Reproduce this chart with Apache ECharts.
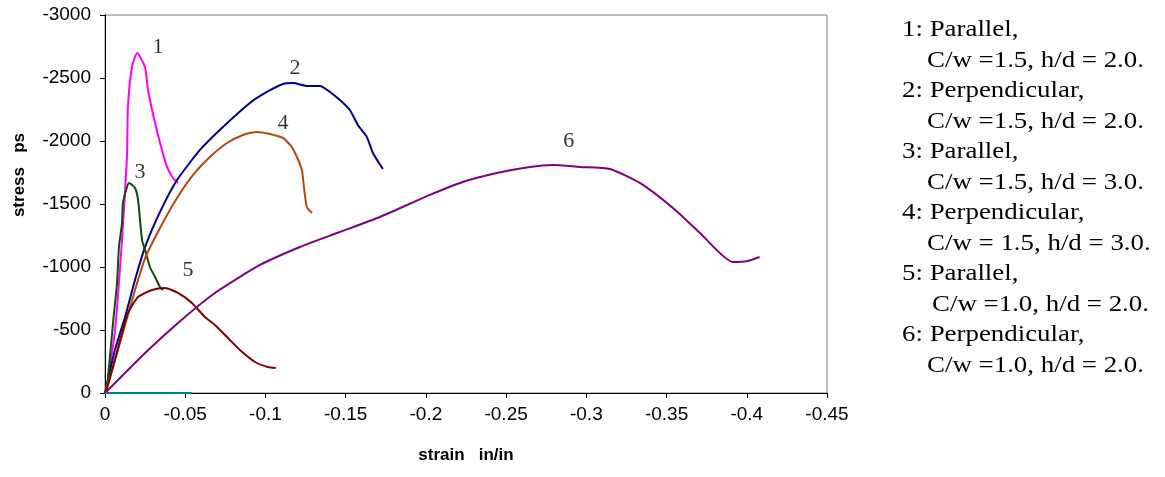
<!DOCTYPE html>
<html>
<head>
<meta charset="utf-8">
<title>stress vs strain</title>
<script src="https://cdn.jsdelivr.net/npm/echarts@6/dist/echarts.min.js"></script>
<style>
  html, body { margin: 0; padding: 0; background: #fff; }
  #grafico { width: 1165px; height: 477px; }
</style>
</head>
<body>
<div id="grafico"></div>
<script>
// curva 1: Parallel, C/w 1.5, h/d 2.0
const strain1 = [0, -0.0006, -0.0062, -0.0106, -0.0137, -0.0143, -0.0168, -0.020, -0.0249, -0.0268, -0.0312, -0.0355, -0.0386, -0.0424, -0.0455];
const stress1 = [0, -8, -492, -1214, -1873, -2270, -2587, -2698, -2587, -2405, -2143, -1929, -1794, -1706, -1667];

// curva 2: Perpendicular, C/w 1.5, h/d 2.0
const strain2 = [0, -0.0062, -0.0125, -0.0187, -0.025, -0.0343, -0.0449, -0.0592, -0.0735, -0.0903, -0.1009, -0.1109, -0.1171, -0.1259, -0.134, -0.1402, -0.1464, -0.1526, -0.1576, -0.1632, -0.167, -0.1732];
const stress2 = [0, -341, -603, -897, -1159, -1437, -1690, -1929, -2111, -2302, -2389, -2452, -2460, -2437, -2437, -2389, -2325, -2246, -2127, -2032, -1905, -1778];

// curva 3: Parallel, C/w 1.5, h/d 3.0
const strain3 = [0, -0.0012, -0.0031, -0.005, -0.0075, -0.0087, -0.0106, -0.0112, -0.0137, -0.015, -0.0187, -0.0206, -0.0231, -0.025, -0.028, -0.0312, -0.0343, -0.0361];
const stress3 = [0, -48, -286, -556, -873, -1159, -1349, -1508, -1635, -1667, -1627, -1532, -1214, -1135, -1000, -921, -841, -818];

// curva 4: Perpendicular, C/w 1.5, h/d 3.0
const strain4 = [0, -0.0062, -0.0125, -0.0187, -0.025, -0.0343, -0.0449, -0.0548, -0.0654, -0.076, -0.086, -0.0947, -0.1028, -0.1109, -0.1165, -0.1196, -0.1227, -0.124, -0.1258, -0.129];
const stress4 = [0, -262, -540, -818, -1071, -1310, -1548, -1730, -1873, -1984, -2048, -2072, -2056, -2024, -1952, -1873, -1770, -1635, -1476, -1429];

// curva 5: Parallel, C/w 1.0, h/d 2.0
const strain5 = [0, -0.0006, -0.0062, -0.0106, -0.0143, -0.0206, -0.0293, -0.0374, -0.0455, -0.0542, -0.0623, -0.0685, -0.0766, -0.0841, -0.0935, -0.1015, -0.1065];
const stress5 = [0, -8, -262, -476, -635, -762, -818, -833, -794, -714, -603, -540, -437, -341, -246, -206, -198];

// curva 6: Perpendicular, C/w 1.0, h/d 2.0
const strain6 = [0, -0.025, -0.0455, -0.0685, -0.0966, -0.1215, -0.1464, -0.1713, -0.2025, -0.223, -0.2442, -0.2648, -0.2791, -0.296, -0.3147, -0.3334, -0.354, -0.3708, -0.3913, -0.4006, -0.408];
const stress6 = [0, -318, -556, -794, -1016, -1159, -1278, -1397, -1572, -1675, -1746, -1794, -1810, -1794, -1778, -1667, -1468, -1270, -1040, -1048, -1079];

// linea en cero
const strain7 = [0, -0.054];
const stress7 = [0, 0];

// etiquetas de curva (en coordenadas de datos)
const etiquetas = ["1", "2", "3", "4", "5", "6"];
const etiquetaStrain = [-0.033, -0.1184, -0.0218, -0.111, -0.0517, -0.289];
const etiquetaStress = [-2746, -2580, -1754, -2143, -976, -2000];

// leyenda de texto a la derecha
const leyenda = [
    "1: Parallel,", "C/w =1.5, h/d = 2.0.",
    "2: Perpendicular,", "C/w =1.5, h/d = 2.0.",
    "3: Parallel,", "C/w =1.5, h/d = 3.0.",
    "4: Perpendicular,", "C/w = 1.5, h/d = 3.0.",
    "5: Parallel,", " C/w =1.0, h/d = 2.0.",
    "6: Perpendicular,", "C/w =1.0, h/d = 2.0."
];

const colores = ["#FF00FF", "#000080", "#0F4A0F", "#B5470F", "#800000", "#800080", "#008080"];

function pares(xs, ys) {
    return xs.map((x, i) => [x, ys[i]]);
}

const curvas = [
    pares(strain1, stress1),
    pares(strain2, stress2),
    pares(strain3, stress3),
    pares(strain4, stress4),
    pares(strain5, stress5),
    pares(strain6, stress6),
    pares(strain7, stress7)
];

const series = curvas.map((d, i) => ({
    type: "line",
    data: d,
    showSymbol: false,
    smooth: 0.2,
    lineStyle: { color: colores[i], width: 2 },
    z: 3
}));

series.push({
    type: "scatter",
    symbolSize: 0,
    data: etiquetas.map((t, i) => [etiquetaStrain[i], etiquetaStress[i], t]),
    label: {
        show: true,
        position: "inside",
        formatter: (p) => p.data[2],
        fontFamily: "Liberation Serif",
        fontSize: 22,
        color: "#000"
    },
    z: 4
});

// la leyenda del original esta algo estirada a lo ancho
const textoLeyenda = leyenda.map((t, i) => ({
    type: "text",
    x: i % 2 === 0 ? 902 : (i === 9 ? 932 : 927),
    y: 30 + i * 30.5,
    scaleX: 1.12,
    style: {
        text: t.trimStart(),
        fontFamily: "Liberation Serif",
        fontSize: 24,
        fill: "#000",
        textVerticalAlign: "middle"
    }
}));

const ejeFuente = { fontFamily: "Liberation Sans, Arial", fontSize: 19, color: "#000" };

const opciones = {
    animation: false,
    backgroundColor: "#fff",
    grid: {
        left: 105,
        right: 338,
        top: 15,
        bottom: 84,
        show: true,
        borderColor: "#808080",
        borderWidth: 1
    },
    xAxis: {
        type: "value",
        min: -0.45,
        max: 0,
        interval: 0.05,
        inverse: true,
        name: "strain   in/in",
        nameLocation: "middle",
        nameGap: 54,
        nameTextStyle: { fontFamily: "Liberation Sans, Arial", fontSize: 17, fontWeight: "bold", color: "#000" },
        axisLine: { show: true, onZero: false, lineStyle: { color: "#000", width: 1 } },
        axisTick: { show: true, length: 5, lineStyle: { color: "#000" } },
        axisLabel: Object.assign({ margin: 12, formatter: (v) => String(v) }, ejeFuente),
        splitLine: { show: false }
    },
    yAxis: {
        type: "value",
        min: -3000,
        max: 0,
        interval: 500,
        inverse: true,
        axisLine: { show: true, onZero: false, lineStyle: { color: "#000", width: 1 } },
        axisTick: { show: true, length: 5, lineStyle: { color: "#000" } },
        axisLabel: Object.assign({ margin: 14, formatter: (v) => String(v) }, ejeFuente),
        splitLine: { show: false }
    },
    graphic: [
        {
            type: "text",
            x: 11,
            y: 133,
            rotation: Math.PI / 2,
            originX: 0,
            originY: 0,
            style: {
                text: "stress   ps",
                fontFamily: "Liberation Sans, Arial",
                fontSize: 17,
                fontWeight: "bold",
                fill: "#000",
                textAlign: "right",
                textVerticalAlign: "top"
            }
        }
    ].concat(textoLeyenda),
    series: series
};

const miGrafico = echarts.init(document.getElementById("grafico"));
miGrafico.setOption(opciones);
</script>
</body>
</html>
